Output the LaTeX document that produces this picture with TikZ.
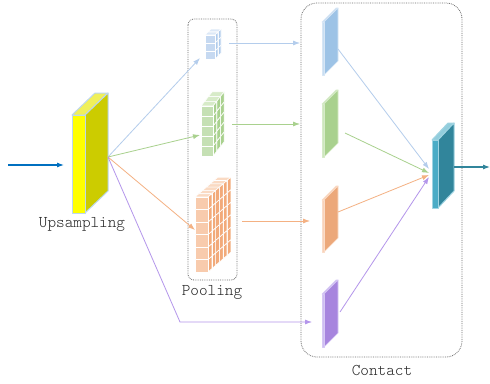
\documentclass[tikz,border=0pt]{standalone}
\usetikzlibrary{arrows.meta}
% colours
\definecolor{yelfront}{RGB}{255,255,0}
\definecolor{yelside}{RGB}{204,204,0}
\definecolor{yeltop}{RGB}{240,240,90}
\definecolor{yeledge}{RGB}{189,215,238}
\definecolor{tealfront}{RGB}{75,172,198}
\definecolor{tealside}{RGB}{49,133,155}
\definecolor{tealtop}{RGB}{146,205,220}
\definecolor{tealedge}{RGB}{160,212,226}
\definecolor{pbfront}{RGB}{198,217,241}
\definecolor{pbside}{RGB}{175,203,236}
\definecolor{pbtop}{RGB}{220,232,247}
\definecolor{pbedge}{RGB}{255,255,255}
\definecolor{pgfront}{RGB}{197,224,180}
\definecolor{pgside}{RGB}{169,209,142}
\definecolor{pgtop}{RGB}{215,235,200}
\definecolor{pgedge}{RGB}{255,255,255}
\definecolor{pofront}{RGB}{248,203,173}
\definecolor{poside}{RGB}{242,170,122}
\definecolor{potop}{RGB}{250,218,195}
\definecolor{poedge}{RGB}{255,255,255}
\definecolor{cbfront}{RGB}{200,222,242}
\definecolor{cbside}{RGB}{157,195,230}
\definecolor{cbtop}{RGB}{200,222,242}
\definecolor{cbedge}{RGB}{215,230,245}
\definecolor{cgfront}{RGB}{205,230,190}
\definecolor{cgside}{RGB}{169,209,142}
\definecolor{cgtop}{RGB}{205,230,190}
\definecolor{cgedge}{RGB}{215,235,200}
\definecolor{cofront}{RGB}{248,210,185}
\definecolor{coside}{RGB}{236,168,122}
\definecolor{cotop}{RGB}{248,210,185}
\definecolor{coedge}{RGB}{250,220,200}
\definecolor{cpfront}{RGB}{205,190,240}
\definecolor{cpside}{RGB}{167,133,222}
\definecolor{cptop}{RGB}{205,190,240}
\definecolor{cpedge}{RGB}{215,200,245}
\definecolor{inblue}{RGB}{0,112,192}
\definecolor{outteal}{RGB}{49,133,155}
\definecolor{arblue}{RGB}{180,205,236}
\definecolor{argreen}{RGB}{169,209,142}
\definecolor{arorange}{RGB}{244,177,131}
\definecolor{arpurple}{RGB}{180,150,235}
\definecolor{boxgray}{RGB}{110,110,110}

\newcommand\cuboid[7]{%
 \filldraw[cub,fill=#7top,draw=#7edge] (#1,#2) -- ({#1+#5},{#2+#6}) -- ({#1+#3+#5},{#2+#6}) -- ({#1+#3},#2) -- cycle;
 \filldraw[cub,fill=#7side,draw=#7edge] ({#1+#3},#2) -- ({#1+#3+#5},{#2+#6}) -- ({#1+#3+#5},{#2+#4+#6}) -- ({#1+#3},{#2+#4}) -- cycle;
 \filldraw[cub,fill=#7front,draw=#7edge] (#1,#2) rectangle ({#1+#3},{#2+#4});
}
\newcommand\gridbox[9]{%
 \foreach \gl in {#6,...,1}{%
  \foreach \gr in {#5,...,1}{%
   \pgfmathsetmacro\gx{#1+(\gl-1)*#7}%
   \pgfmathsetmacro\gy{#2+(\gr-1)*#4+(\gl-1)*#8}%
   \cuboid{\gx}{\gy}{#3}{#4}{#7}{#8}{#9}%
  }}}

\tikzset{
 cub/.style={line width=0.8pt, line join=round},
 conn/.style={line width=0.8pt, -{Latex[length=7pt,width=5pt]}},
 dotbox/.style={draw=boxgray, densely dotted, line width=0.8pt},
 lbl/.style={font=\ttfamily\fontseries{l}\fontsize{16.4}{18}\selectfont, inner sep=0pt, text=black!85}
}

\begin{document}
\begin{tikzpicture}[x=1pt,y=-1pt]
\useasboundingbox (0,0) rectangle (490,383);
\fill[white] (0,0) rectangle (490,383);

% frames
\draw[dotbox, rounded corners=6pt] (188,19) rectangle (237,280);
\draw[dotbox, rounded corners=16pt] (301,3) rectangle (462,357);

% upsampling block
\begin{scope}[cub/.style={line width=1pt, line join=round}]
\cuboid{72}{115}{13}{98}{23}{-22}{yel}
\end{scope}

% pooling grids
\begin{scope}[cub/.style={line width=0.6pt, line join=round}]
\gridbox{205}{35}{10}{8}{3}{2}{3}{-3}{pb}
\gridbox{201}{106}{12}{10}{5}{3}{3.7}{-4.7}{pg}
\gridbox{195}{197}{13}{12.5}{6}{6}{3.8}{-3.3}{po}
\end{scope}

% contact bars
\begin{scope}[cub/.style={line width=0.6pt, line join=round}]
\cuboid{322}{22}{2}{53}{14}{-14}{cb}
\cuboid{322}{104}{2}{53}{14}{-14}{cg}
\cuboid{322}{200}{2}{52}{14}{-14}{co}
\cuboid{322}{294}{2}{53}{14}{-14}{cp}
\end{scope}

% output block
\begin{scope}[cub/.style={line width=1pt, line join=round}]
\cuboid{432}{140}{6}{68}{16}{-17}{teal}
\end{scope}

% labels
\node[lbl] (up) at (82,224) {Upsampling};
\node[lbl] (pool) at (212,292) {Pooling};
\node[lbl] (cont) at (382,370) {Contact};

% connection points
\coordinate (in) at (8,165);
\coordinate (upin) at (64,165);
\coordinate (src) at (108,157);
\coordinate (pbin) at (200,58);
\coordinate (pgin) at (200,135);
\coordinate (poin) at (195,230);
\coordinate (bend) at (180,322);
\coordinate (cpin) at (312,322);
\coordinate (pbout) at (229,43);
\coordinate (cbin) at (300,43);
\coordinate (pgout) at (232,124);
\coordinate (cgin) at (300,124);
\coordinate (poout) at (242,221);
\coordinate (coin) at (310,221);
\coordinate (cbout) at (338,49);
\coordinate (cgout) at (345,133);
\coordinate (coout) at (338,212);
\coordinate (cpout) at (340,312);
\coordinate (tb) at (429,169);
\coordinate (tg) at (429,173);
\coordinate (to) at (429,175);
\coordinate (tp) at (429,177);
\coordinate (outs) at (454,167);
\coordinate (oute) at (490,167);

% connectors
\draw[conn, inblue, line width=1.1pt] (in) -- (upin);
\draw[conn, arblue] (src) -- (pbin);
\draw[conn, argreen] (src) -- (pgin);
\draw[conn, arorange] (src) -- (poin);
\draw[conn, arpurple] (src) -- (bend) -- (cpin);
\draw[conn, arblue] (pbout) -- (cbin);
\draw[conn, argreen] (pgout) -- (cgin);
\draw[conn, arorange] (poout) -- (coin);
\draw[conn, arblue] (cbout) -- (tb);
\draw[conn, argreen] (cgout) -- (tg);
\draw[conn, arorange] (coout) -- (to);
\draw[conn, arpurple] (cpout) -- (tp);
\draw[conn, outteal, line width=1.1pt] (outs) -- (oute);
\end{tikzpicture}
\end{document}
